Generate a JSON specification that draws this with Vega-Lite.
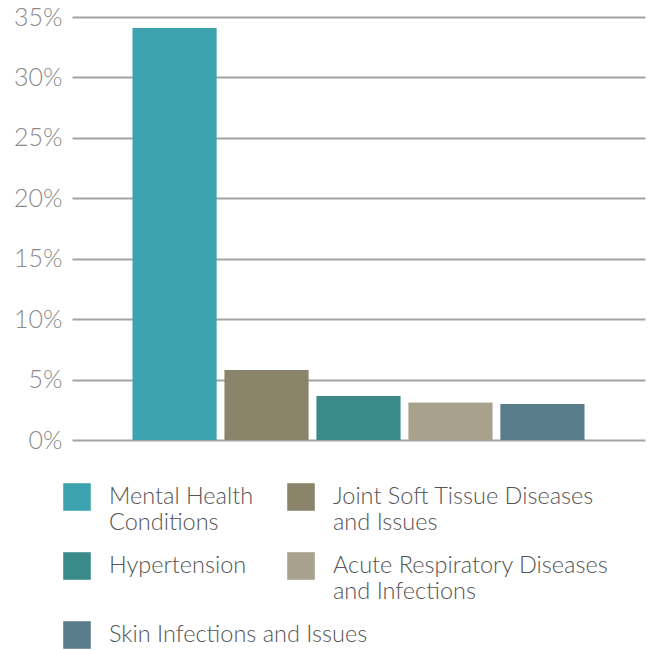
{
  "$schema": "https://vega.github.io/schema/vega-lite/v6.json",
  "width": 573,
  "height": 423,
  "autosize": "none",
  "padding": {"left": 72, "top": 17, "right": 4, "bottom": 210},
  "background": "white",
  "config": {
    "view": {"stroke": null},
    "font": "Lato",
    "legend": {
      "orient": "none", "title": null, "symbolType": "square", "symbolSize": 760,
      "symbolOpacity": 1, "symbolStrokeWidth": 0,
      "labelFontSize": 23.5, "labelColor": "#555555", "labelFontWeight": 300, "labelFont": "Lato",
      "labelLimit": 400, "labelOffset": 18, "rowPadding": 18, "gridAlign": "all"
    }
  },
  "data": {"values": [
    {"category": "Mental Health Conditions", "value": 0.341},
    {"category": "Joint Soft Tissue Diseases and Issues", "value": 0.058},
    {"category": "Hypertension", "value": 0.0364},
    {"category": "Acute Respiratory Diseases and Infections", "value": 0.0308},
    {"category": "Skin Infections and Issues", "value": 0.0298}
  ]},
  "encoding": {
    "x": {"field": "category", "type": "nominal", "sort": null,
      "scale": {"paddingInner": 0.09, "paddingOuter": 0.66},
      "axis": {"labels": false, "ticks": false, "title": null, "domain": false}},
    "y": {"field": "value", "type": "quantitative",
      "scale": {"domain": [0, 0.35], "nice": false},
      "axis": {"format": ".0%", "values": [0, 0.05, 0.1, 0.15, 0.2, 0.25, 0.3, 0.35],
        "title": null, "domain": false, "ticks": false,
        "grid": true, "gridColor": "#a3a3a3", "gridWidth": 2,
        "labelFontSize": 25, "labelColor": "#8a8a8a", "labelFontWeight": 300,
        "labelPadding": 10, "labelFont": "Lato"}}
  },
  "layer": [
    {
      "mark": {"type": "bar"},
      "encoding": {
        "color": {"field": "category", "type": "nominal", "sort": null,
          "scale": {"domain": ["Mental Health Conditions", "Joint Soft Tissue Diseases and Issues", "Hypertension", "Acute Respiratory Diseases and Infections", "Skin Infections and Issues"],
            "range": ["#3da3af", "#8a846b", "#3a8a8a", "#a8a18c", "#5a7d8c"]},
          "legend": {"legendX": -9, "legendY": 466,
            "values": ["Mental Health Conditions", "Hypertension", "Skin Infections and Issues"],
            "labelExpr": "datum.label == 'Mental Health Conditions' ? ['Mental Health', 'Conditions'] : datum.label"}}
      }
    },
    {
      "mark": {"type": "bar"},
      "encoding": {
        "color": {"field": "category", "type": "nominal", "sort": null,
          "legend": {"legendX": 215, "legendY": 466,
            "values": ["Joint Soft Tissue Diseases and Issues", "Acute Respiratory Diseases and Infections"],
            "labelExpr": "datum.label == 'Joint Soft Tissue Diseases and Issues' ? ['Joint Soft Tissue Diseases', 'and Issues'] : datum.label == 'Acute Respiratory Diseases and Infections' ? ['Acute Respiratory Diseases', 'and Infections'] : datum.label"}}
      }
    }
  ],
  "resolve": {"legend": {"color": "independent"}}
}
